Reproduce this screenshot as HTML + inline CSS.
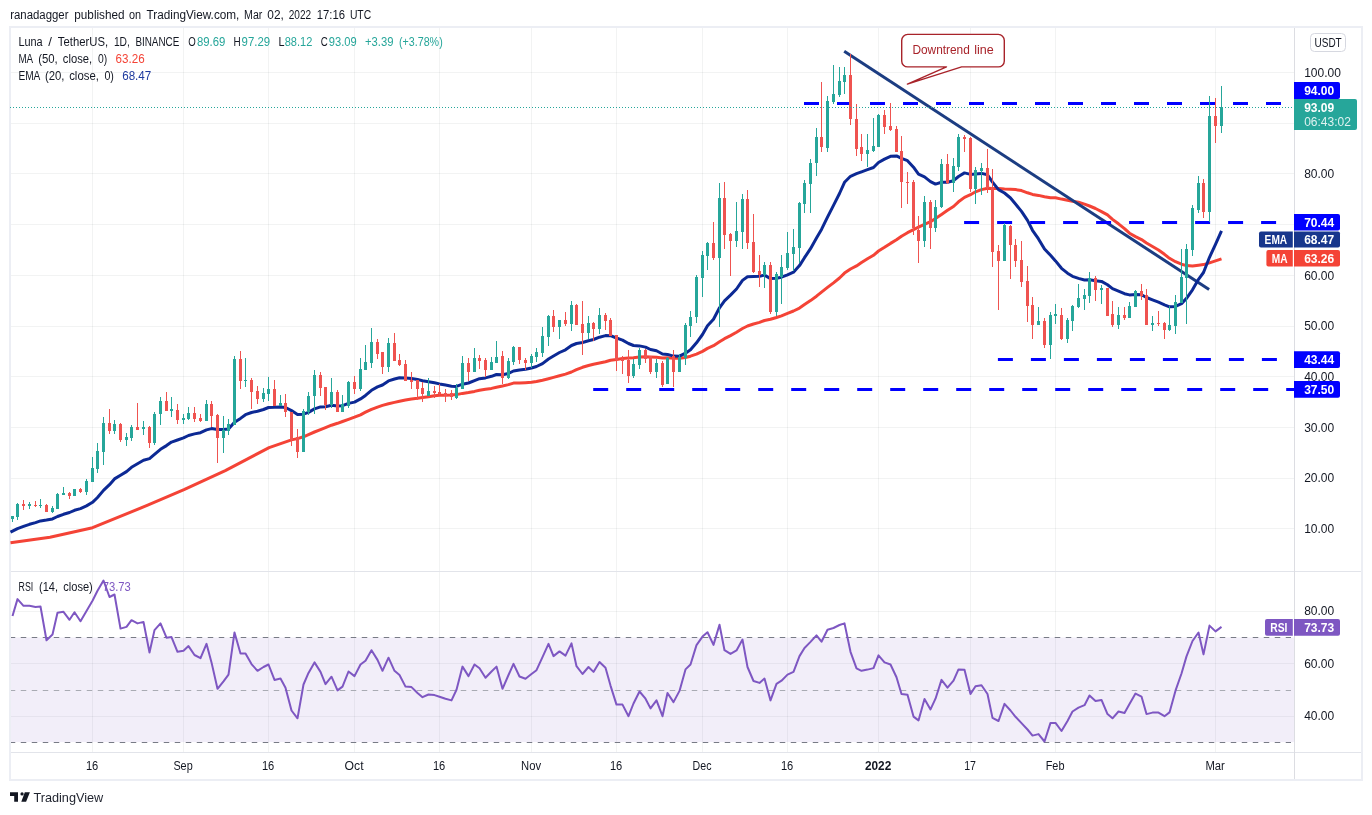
<!DOCTYPE html>
<html><head><meta charset="utf-8"><title>LUNA / TetherUS chart</title>
<style>
html,body{margin:0;padding:0;background:#fff}
body{width:1372px;height:815px;position:relative;overflow:hidden}
svg{position:absolute;left:0;top:0;display:block}
text{font-family:"Liberation Sans",sans-serif}
</style></head><body>
<svg width="1372" height="815" viewBox="0 0 1372 815">
<rect x="10" y="27" width="1352" height="753" fill="#fff" stroke="#eceef4" stroke-width="2"/>
<path d="M92.5 28V752M183.5 28V752M268.5 28V752M354.5 28V752M439.5 28V752M531.5 28V752M616.5 28V752M702.5 28V752M787.5 28V752M878.5 28V752M970.5 28V752M1055.5 28V752M1215.5 28V752" stroke="#2a2e39" stroke-opacity=".06" stroke-width="1" fill="none"/>
<path d="M11 528.5H1294M11 478.5H1294M11 427.5H1294M11 376.5H1294M11 326.5H1294M11 275.5H1294M11 224.5H1294M11 173.5H1294M11 123.5H1294M11 72.5H1294M11 611.5H1294M11 663.5H1294M11 716.5H1294" stroke="#2a2e39" stroke-opacity=".06" stroke-width="1" fill="none"/>
<rect x="11" y="637.5" width="1283" height="104.6" fill="#7e57c2" fill-opacity=".1"/>
<path d="M11 571.5H1361M11 752.5H1361" stroke="#e2e4ea" stroke-width="1"/>
<path d="M1294.5 28V779" stroke="#dcdde2" stroke-width="1"/>
<path d="M11 637.5H1291M11 742.5H1291" stroke="#787b86" stroke-width="1" stroke-dasharray="5.5 5.5" stroke-dashoffset="1.24"/>
<path d="M11 690.5H1291" stroke="#a9abb3" stroke-width="1" stroke-dasharray="5.5 5.5" stroke-dashoffset="1.24"/>
<polyline points="10.5,542.7 50.0,537.2 92.6,527.7 147.7,505.2 184.0,489.7 225.3,470.6 269.1,447.6 291.5,439.9 297.5,438.6 303.5,436.8 308.5,434.6 314.5,432.0 320.5,429.6 325.5,427.6 331.5,425.2 337.5,423.3 342.5,421.5 348.5,419.3 354.5,417.2 360.5,414.8 365.5,412.2 371.5,409.4 377.5,407.1 382.5,405.4 388.5,403.8 394.5,402.4 399.5,401.2 405.5,400.0 411.5,398.9 417.5,398.2 422.5,397.5 428.5,396.7 434.5,395.7 439.5,395.3 445.5,395.2 451.5,395.0 456.5,394.6 462.5,393.4 468.5,392.5 474.5,391.4 479.5,390.2 485.5,389.2 491.5,388.4 496.5,387.2 502.5,386.0 508.5,384.6 513.5,383.1 519.5,383.1 525.5,382.7 531.5,382.3 536.5,381.5 542.5,380.2 548.5,378.7 553.5,377.4 559.5,375.7 565.5,374.1 571.5,372.0 576.5,369.7 582.5,367.3 588.5,365.5 593.5,364.2 599.5,363.0 605.5,361.7 610.5,360.3 616.5,359.6 622.5,358.6 628.5,358.1 633.5,357.7 639.5,356.9 645.5,356.7 650.5,356.9 656.5,357.3 662.5,357.9 667.5,357.8 673.5,358.3 679.5,358.3 685.5,357.5 690.5,356.2 696.5,354.1 702.5,351.4 707.5,348.4 713.5,345.7 719.5,341.8 724.5,338.7 730.5,335.6 736.5,332.2 742.5,328.5 747.5,326.0 753.5,324.0 759.5,322.4 764.5,320.5 770.5,319.3 776.5,317.5 781.5,315.8 787.5,313.3 793.5,311.0 799.5,308.1 804.5,304.6 810.5,300.6 816.5,296.2 821.5,292.1 827.5,287.4 833.5,282.9 839.5,278.0 844.5,273.1 850.5,269.0 856.5,265.9 861.5,262.5 867.5,258.8 873.5,255.3 878.5,251.0 884.5,247.3 890.5,243.4 896.5,239.8 901.5,236.2 907.5,232.7 913.5,229.7 918.5,227.2 924.5,224.3 930.5,221.7 935.5,218.4 941.5,214.4 947.5,210.3 953.5,206.5 958.5,201.8 964.5,197.4 970.5,194.7 975.5,191.8 981.5,189.6 987.5,188.2 992.5,188.4 998.5,188.5 1004.5,189.0 1010.5,189.2 1015.5,189.6 1021.5,190.6 1027.5,192.8 1032.5,194.4 1038.5,195.4 1044.5,196.8 1050.5,197.8 1055.5,197.8 1061.5,199.1 1067.5,200.2 1072.5,201.2 1078.5,202.2 1084.5,204.1 1089.5,206.0 1095.5,208.5 1101.5,211.6 1107.5,214.9 1112.5,219.4 1118.5,223.8 1124.5,228.6 1129.5,233.2 1135.5,236.6 1141.5,239.6 1146.5,243.0 1152.5,246.5 1158.5,250.0 1164.5,254.3 1169.5,258.3 1175.5,261.7 1181.5,264.2 1186.5,265.6 1192.5,266.1 1198.5,265.2 1203.5,264.6 1209.5,262.9 1215.5,260.8 1221.5,258.8" fill="none" stroke="#f44336" stroke-width="3" stroke-linejoin="round" stroke-linecap="butt"/>
<path d="M844.2 51.3L1209.1 289.5" stroke="#1c3d82" stroke-width="3" fill="none"/>
<polyline points="10.5,532.2 12.5,531.2 17.5,528.6 23.5,526.4 29.5,524.3 35.5,522.6 40.5,520.9 46.5,520.0 52.5,518.9 57.5,516.5 63.5,514.3 69.5,512.5 74.5,510.3 80.5,508.6 86.5,505.9 92.5,502.3 97.5,497.5 103.5,490.4 109.5,484.7 114.5,478.9 120.5,475.2 126.5,471.6 131.5,467.3 137.5,463.8 143.5,460.3 149.5,458.6 154.5,454.3 160.5,449.3 166.5,445.6 171.5,442.1 177.5,440.0 183.5,437.9 188.5,435.5 194.5,433.9 200.5,432.7 206.5,429.9 211.5,428.6 217.5,429.5 223.5,429.5 228.5,429.0 234.5,422.3 240.5,418.4 245.5,414.7 251.5,412.5 257.5,411.2 263.5,409.5 268.5,407.5 274.5,407.3 280.5,406.9 285.5,407.5 291.5,410.6 297.5,414.5 303.5,414.2 308.5,412.4 314.5,408.9 320.5,406.9 325.5,406.7 331.5,405.3 337.5,405.9 342.5,405.7 348.5,403.4 354.5,402.1 360.5,398.9 365.5,395.4 371.5,390.3 377.5,386.9 382.5,385.0 388.5,380.9 394.5,379.0 399.5,377.7 405.5,378.0 411.5,378.4 417.5,379.4 422.5,380.7 428.5,381.7 434.5,382.8 439.5,383.9 445.5,385.0 451.5,386.2 456.5,386.4 462.5,384.2 468.5,383.0 474.5,380.6 479.5,378.7 485.5,377.9 491.5,376.3 496.5,374.5 502.5,374.8 508.5,373.5 513.5,371.0 519.5,369.9 525.5,369.2 531.5,368.0 536.5,366.5 542.5,363.6 548.5,359.0 553.5,356.0 559.5,352.5 565.5,349.8 571.5,345.5 576.5,343.5 582.5,342.5 588.5,340.7 593.5,339.5 599.5,337.2 605.5,335.6 610.5,335.7 616.5,338.0 622.5,340.1 628.5,343.5 633.5,345.5 639.5,345.9 645.5,347.1 650.5,349.5 656.5,350.8 662.5,354.0 667.5,354.4 673.5,356.1 679.5,356.2 685.5,353.2 690.5,349.8 696.5,342.8 702.5,334.5 707.5,325.8 713.5,319.3 719.5,307.8 724.5,300.8 730.5,295.1 736.5,289.0 742.5,280.4 747.5,276.8 753.5,276.4 759.5,276.2 764.5,275.1 770.5,278.6 776.5,278.2 781.5,277.2 787.5,274.9 793.5,272.2 799.5,265.6 804.5,257.7 810.5,248.7 816.5,238.0 821.5,229.4 827.5,217.1 833.5,205.4 839.5,193.5 844.5,182.3 850.5,176.3 856.5,173.7 861.5,171.8 867.5,169.7 873.5,167.5 878.5,162.5 884.5,159.1 890.5,156.3 896.5,155.9 901.5,158.4 907.5,160.7 913.5,167.2 918.5,174.2 924.5,176.8 930.5,181.6 935.5,184.1 941.5,182.2 947.5,182.3 953.5,180.7 958.5,176.5 964.5,172.9 970.5,174.4 975.5,174.0 981.5,173.4 987.5,174.8 992.5,182.1 998.5,189.6 1004.5,193.0 1010.5,198.0 1015.5,204.0 1021.5,211.4 1027.5,220.4 1032.5,230.3 1038.5,238.9 1044.5,249.0 1050.5,255.3 1055.5,260.9 1061.5,268.3 1067.5,273.2 1072.5,276.3 1078.5,278.4 1084.5,280.0 1089.5,279.8 1095.5,280.7 1101.5,281.4 1107.5,284.7 1112.5,288.6 1118.5,291.1 1124.5,293.7 1129.5,294.9 1135.5,294.5 1141.5,294.7 1146.5,297.5 1152.5,299.9 1158.5,302.2 1164.5,304.8 1169.5,306.8 1175.5,306.4 1181.5,303.6 1186.5,298.4 1192.5,289.8 1198.5,279.3 1203.5,272.5 1209.5,257.3 1215.5,244.3 1221.5,230.8" fill="none" stroke="#0c2994" stroke-width="3" stroke-linejoin="round" stroke-linecap="butt"/>
<path d="M804.0 103.5H819.0M837.0 103.5H852.0M870.0 103.5H885.0M903.0 103.5H918.0M936.0 103.5H951.0M969.0 103.5H984.0M1002.0 103.5H1017.0M1035.0 103.5H1050.0M1068.0 103.5H1083.0M1101.0 103.5H1116.0M1134.0 103.5H1149.0M1167.0 103.5H1182.0M1200.0 103.5H1215.0M1233.0 103.5H1248.0M1266.0 103.5H1281.0M964.1 222.5H979.1M997.1 222.5H1012.1M1030.1 222.5H1045.1M1063.1 222.5H1078.1M1096.1 222.5H1111.1M1129.1 222.5H1144.1M1162.1 222.5H1177.1M1195.1 222.5H1210.1M1228.1 222.5H1243.1M1261.1 222.5H1276.1M997.9 359.5H1012.9M1030.9 359.5H1045.9M1063.9 359.5H1078.9M1096.9 359.5H1111.9M1129.9 359.5H1144.9M1162.9 359.5H1177.9M1195.9 359.5H1210.9M1228.9 359.5H1243.9M1261.9 359.5H1276.9M593.2 389.5H608.2M626.2 389.5H641.2M659.2 389.5H674.2M692.2 389.5H707.2M725.2 389.5H740.2M758.2 389.5H773.2M791.2 389.5H806.2M824.2 389.5H839.2M857.2 389.5H872.2M890.2 389.5H905.2M923.2 389.5H938.2M956.2 389.5H971.2M989.2 389.5H1004.2M1022.2 389.5H1037.2M1055.2 389.5H1070.2M1088.2 389.5H1103.2M1121.2 389.5H1136.2M1154.2 389.5H1169.2M1187.2 389.5H1202.2M1220.2 389.5H1235.2M1253.2 389.5H1268.2M1286.2 389.5H1294.0" stroke="#0000ff" stroke-width="3" fill="none"/>
<path d="M12.5 516V522M17.5 503V520M29.5 502V509M40.5 499V508M52.5 506V513M57.5 493V509M63.5 487V495M74.5 489V496M86.5 479V495M92.5 457V482M97.5 443V473M103.5 417V465M114.5 420V434M126.5 433V446M131.5 425V441M143.5 421V435M154.5 412V445M160.5 397V425M171.5 397V417M183.5 414V424M188.5 407V420M206.5 400V421M223.5 416V453M228.5 419V435M234.5 356V425M245.5 358V387M263.5 388V402M268.5 377V401M280.5 395V406M303.5 409V452M308.5 392V415M314.5 370V414M331.5 378V408M342.5 395V412M348.5 381V408M360.5 358V391M365.5 345V370M371.5 328V368M388.5 338V372M428.5 378V396M456.5 384V399M462.5 356V389M474.5 348V372M491.5 357V370M496.5 341V363M508.5 358V379M513.5 346V365M531.5 354V368M536.5 348V362M542.5 327V357M548.5 315V346M559.5 320V339M571.5 301V331M588.5 316V339M599.5 308V334M633.5 359V378M639.5 348V369M656.5 359V378M667.5 357V384M679.5 354V372M685.5 323V365M690.5 311V337M696.5 275V323M702.5 251V297M707.5 242V270M719.5 183V327M736.5 202V247M742.5 194V249M764.5 262V288M776.5 272V316M781.5 255V304M787.5 232V270M793.5 229V271M799.5 202V263M804.5 180V213M810.5 159V213M816.5 128V176M827.5 96V152M833.5 65V104M839.5 67V97M844.5 67V94M867.5 134V167M873.5 118V152M878.5 114V147M924.5 196V247M935.5 200V232M941.5 159V208M953.5 158V192M958.5 134V171M975.5 167V204M981.5 163V195M1004.5 223V261M1038.5 307V325M1050.5 312V359M1055.5 304V324M1067.5 318V343M1072.5 305V331M1078.5 284V308M1084.5 289V310M1089.5 272V303M1101.5 285V304M1118.5 307V329M1129.5 302V318M1135.5 290V307M1152.5 316V331M1169.5 306V331M1175.5 295V334M1181.5 249V303M1186.5 244V324M1192.5 205V256M1198.5 176V213M1209.5 96V222M1221.5 86V133" stroke="#26a69a" stroke-width="1" fill="none"/>
<path d="M23.5 500V510M35.5 501V507M46.5 504V512M69.5 492V499M80.5 488V493M109.5 409V434M120.5 423V442M137.5 403V430M149.5 426V448M166.5 392V411M177.5 404V424M194.5 407V422M200.5 414V422M211.5 401V427M217.5 414V463M240.5 351V389M251.5 378V409M257.5 386V404M274.5 380V406M285.5 394V417M291.5 412V446M297.5 429V458M320.5 372V396M325.5 387V410M337.5 390V412M354.5 376V394M377.5 339V359M382.5 352V374M394.5 333V361M399.5 354V366M405.5 360V381M411.5 372V389M417.5 380V400M422.5 382V402M434.5 386V398M439.5 384V395M445.5 389V402M451.5 390V400M468.5 358V381M479.5 355V369M485.5 358V377M502.5 351V384M519.5 347V364M525.5 358V370M553.5 310V332M565.5 312V326M576.5 304V325M582.5 301V355M593.5 322V341M605.5 313V330M610.5 318V336M616.5 335V371M622.5 356V374M628.5 350V383M645.5 349V363M650.5 356V374M662.5 361V387M673.5 350V387M713.5 222V260M724.5 182V249M730.5 233V276M747.5 190V249M753.5 214V273M759.5 255V287M770.5 262V314M821.5 82V152M850.5 54V125M856.5 104V156M861.5 134V161M884.5 110V134M890.5 103V131M896.5 126V152M901.5 136V208M907.5 172V204M913.5 180V235M918.5 216V263M930.5 200V249M947.5 154V184M964.5 135V152M970.5 137V192M987.5 149V193M992.5 169V267M998.5 245V310M1010.5 225V279M1015.5 239V267M1021.5 241V287M1027.5 266V322M1032.5 297V339M1044.5 318V348M1061.5 308V340M1095.5 276V301M1107.5 288V316M1112.5 301V327M1124.5 307V320M1141.5 284V300M1146.5 289V325M1158.5 311V326M1164.5 322V339M1203.5 179V218M1215.5 98V143" stroke="#ef5350" stroke-width="1" fill="none"/>
<path d="M11 516h3V519h-3zM16 504h3V517h-3zM28 504h3V506h-3zM39 505h3V506h-3zM51 508h3V512h-3zM56 494h3V509h-3zM62 493h3V495h-3zM73 489h3V496h-3zM85 481h3V492h-3zM91 468h3V482h-3zM96 451h3V469h-3zM102 423h3V452h-3zM113 424h3V431h-3zM125 437h3V440h-3zM130 427h3V438h-3zM142 427h3V429h-3zM153 414h3V443h-3zM159 401h3V414h-3zM170 409h3V411h-3zM182 418h3V420h-3zM187 413h3V419h-3zM205 404h3V421h-3zM222 430h3V438h-3zM227 424h3V431h-3zM233 359h3V425h-3zM244 380h3V381h-3zM262 393h3V399h-3zM267 389h3V394h-3zM279 403h3V406h-3zM302 411h3V452h-3zM307 396h3V412h-3zM313 375h3V396h-3zM330 392h3V405h-3zM341 404h3V412h-3zM347 382h3V406h-3zM359 369h3V389h-3zM364 362h3V370h-3zM370 342h3V363h-3zM387 343h3V367h-3zM427 391h3V396h-3zM455 388h3V398h-3zM461 363h3V389h-3zM473 358h3V372h-3zM490 362h3V370h-3zM495 357h3V363h-3zM507 361h3V378h-3zM512 347h3V362h-3zM530 356h3V363h-3zM535 352h3V357h-3zM541 336h3V353h-3zM547 316h3V337h-3zM558 320h3V327h-3zM570 305h3V324h-3zM587 323h3V333h-3zM598 315h3V329h-3zM632 364h3V376h-3zM638 350h3V365h-3zM655 363h3V372h-3zM666 358h3V384h-3zM678 357h3V372h-3zM684 325h3V358h-3zM689 317h3V326h-3zM695 277h3V317h-3zM701 255h3V278h-3zM706 243h3V256h-3zM718 198h3V258h-3zM735 231h3V241h-3zM741 199h3V232h-3zM763 265h3V275h-3zM775 274h3V312h-3zM780 267h3V277h-3zM786 253h3V268h-3zM792 247h3V254h-3zM798 203h3V248h-3zM803 183h3V204h-3zM809 163h3V184h-3zM815 137h3V163h-3zM826 101h3V148h-3zM832 94h3V102h-3zM838 81h3V95h-3zM843 75h3V82h-3zM866 150h3V154h-3zM872 146h3V151h-3zM877 115h3V147h-3zM923 202h3V241h-3zM934 207h3V228h-3zM940 164h3V207h-3zM952 166h3V183h-3zM957 137h3V167h-3zM974 170h3V189h-3zM980 168h3V171h-3zM1003 225h3V261h-3zM1037 321h3V325h-3zM1049 315h3V345h-3zM1054 314h3V316h-3zM1066 320h3V339h-3zM1071 306h3V321h-3zM1077 298h3V307h-3zM1083 295h3V299h-3zM1088 278h3V296h-3zM1100 288h3V290h-3zM1117 315h3V325h-3zM1128 306h3V318h-3zM1134 291h3V307h-3zM1151 323h3V325h-3zM1168 325h3V330h-3zM1174 302h3V326h-3zM1180 277h3V303h-3zM1185 249h3V278h-3zM1191 208h3V250h-3zM1197 183h3V210h-3zM1208 116h3V212h-3zM1220 107h3V126h-3z" fill="#26a69a"/>
<path d="M22 504h3V506h-3zM34 505h3V506h-3zM45 505h3V512h-3zM68 493h3V496h-3zM79 489h3V492h-3zM108 423h3V431h-3zM119 424h3V440h-3zM136 427h3V430h-3zM148 427h3V443h-3zM165 401h3V411h-3zM176 410h3V420h-3zM193 413h3V419h-3zM199 418h3V421h-3zM210 404h3V416h-3zM216 415h3V438h-3zM239 359h3V381h-3zM250 380h3V392h-3zM256 391h3V399h-3zM273 389h3V406h-3zM284 403h3V412h-3zM290 412h3V440h-3zM296 437h3V452h-3zM319 375h3V388h-3zM324 387h3V405h-3zM336 392h3V412h-3zM353 382h3V389h-3zM376 342h3V354h-3zM381 352h3V367h-3zM393 343h3V361h-3zM398 360h3V365h-3zM404 364h3V381h-3zM410 380h3V382h-3zM416 380h3V389h-3zM421 388h3V394h-3zM433 391h3V393h-3zM438 392h3V394h-3zM444 393h3V396h-3zM450 393h3V397h-3zM467 363h3V372h-3zM478 358h3V361h-3zM484 360h3V370h-3zM501 356h3V378h-3zM518 347h3V360h-3zM524 360h3V363h-3zM552 316h3V327h-3zM564 320h3V324h-3zM575 305h3V325h-3zM581 324h3V333h-3zM592 323h3V329h-3zM604 315h3V321h-3zM609 320h3V336h-3zM615 335h3V360h-3zM621 359h3V361h-3zM627 360h3V376h-3zM644 350h3V359h-3zM649 356h3V372h-3zM661 363h3V385h-3zM672 356h3V372h-3zM712 243h3V258h-3zM723 198h3V235h-3zM729 234h3V241h-3zM746 199h3V243h-3zM752 242h3V272h-3zM758 271h3V275h-3zM769 265h3V312h-3zM820 137h3V147h-3zM849 75h3V119h-3zM855 119h3V149h-3zM860 147h3V154h-3zM883 115h3V127h-3zM889 126h3V130h-3zM895 129h3V152h-3zM900 151h3V182h-3zM906 182h3V183h-3zM912 182h3V228h-3zM917 230h3V241h-3zM929 202h3V228h-3zM946 164h3V183h-3zM963 137h3V139h-3zM969 138h3V189h-3zM986 168h3V188h-3zM991 187h3V252h-3zM997 251h3V261h-3zM1009 226h3V245h-3zM1014 245h3V261h-3zM1020 260h3V282h-3zM1026 281h3V306h-3zM1031 305h3V325h-3zM1043 321h3V345h-3zM1060 315h3V339h-3zM1094 278h3V290h-3zM1106 288h3V316h-3zM1111 314h3V325h-3zM1123 315h3V318h-3zM1140 291h3V296h-3zM1145 295h3V325h-3zM1157 323h3V324h-3zM1163 323h3V330h-3zM1202 183h3V212h-3zM1214 116h3V126h-3z" fill="#ef5350"/>
<path d="M10 107.500H1294" stroke="#26a69a" stroke-width="1" stroke-dasharray="1 2"/>
<polyline points="12.5,616.0 17.5,599.1 23.5,605.8 29.5,605.8 35.5,606.9 40.5,606.5 46.5,640.2 52.5,634.5 57.5,612.8 63.5,611.8 69.5,619.8 74.5,612.2 80.5,621.2 86.5,611.1 92.5,600.8 97.5,590.7 103.5,580.5 109.5,597.0 114.5,594.5 120.5,628.6 126.5,626.9 131.5,620.2 137.5,623.4 143.5,621.9 149.5,652.5 154.5,630.1 160.5,623.4 166.5,637.7 171.5,637.1 177.5,651.8 183.5,650.8 188.5,646.1 194.5,655.0 200.5,658.2 206.5,643.8 211.5,662.4 217.5,688.8 223.5,681.4 228.5,674.6 234.5,632.4 240.5,653.5 245.5,653.5 251.5,664.1 257.5,670.8 263.5,667.0 268.5,664.5 274.5,679.9 280.5,678.6 285.5,687.7 291.5,710.5 297.5,718.3 303.5,684.5 308.5,672.9 314.5,662.4 320.5,671.9 325.5,684.1 331.5,676.7 337.5,690.4 342.5,686.6 348.5,671.5 354.5,676.1 360.5,664.5 365.5,660.7 371.5,650.2 377.5,659.9 382.5,670.8 388.5,657.7 394.5,670.8 399.5,675.0 405.5,686.6 411.5,687.1 417.5,693.0 422.5,697.2 428.5,694.5 434.5,695.1 439.5,696.8 445.5,698.7 451.5,700.4 456.5,689.8 462.5,666.6 468.5,676.1 474.5,664.5 479.5,668.3 485.5,677.8 491.5,671.5 496.5,666.6 502.5,688.8 508.5,675.0 513.5,663.9 519.5,676.5 525.5,678.8 531.5,674.0 536.5,670.2 542.5,657.1 548.5,643.8 553.5,656.1 559.5,651.4 565.5,655.6 571.5,643.4 576.5,666.2 582.5,674.0 588.5,667.0 593.5,671.9 599.5,662.0 605.5,667.7 610.5,685.6 616.5,704.6 622.5,704.6 628.5,716.2 633.5,703.5 639.5,691.5 645.5,698.7 650.5,708.4 656.5,700.4 662.5,716.2 667.5,693.0 673.5,702.1 679.5,690.9 685.5,669.4 690.5,664.5 696.5,645.1 702.5,636.6 707.5,632.2 713.5,644.9 719.5,624.8 724.5,650.2 730.5,653.9 736.5,650.4 742.5,639.6 747.5,667.0 753.5,681.0 759.5,682.9 764.5,678.6 770.5,700.4 776.5,683.9 781.5,680.7 787.5,674.6 793.5,671.9 799.5,656.1 804.5,648.0 810.5,641.9 816.5,635.4 821.5,641.7 827.5,629.7 833.5,628.0 839.5,625.0 844.5,623.4 850.5,651.8 856.5,668.3 861.5,670.8 867.5,669.6 873.5,668.1 878.5,655.4 884.5,662.4 890.5,664.5 896.5,677.2 901.5,694.0 907.5,694.7 913.5,716.6 918.5,720.4 924.5,698.9 930.5,709.4 935.5,698.7 941.5,679.9 947.5,687.7 953.5,680.7 958.5,669.4 964.5,669.8 970.5,694.0 975.5,686.2 981.5,685.2 987.5,694.0 992.5,717.9 998.5,721.0 1004.5,703.9 1010.5,710.5 1015.5,716.8 1021.5,723.1 1027.5,729.5 1032.5,735.6 1038.5,734.1 1044.5,741.5 1050.5,722.9 1055.5,722.9 1061.5,731.0 1067.5,721.0 1072.5,711.5 1078.5,707.7 1084.5,705.2 1089.5,695.5 1095.5,701.0 1101.5,699.9 1107.5,714.1 1112.5,718.3 1118.5,711.5 1124.5,713.0 1129.5,703.9 1135.5,693.6 1141.5,696.6 1146.5,714.1 1152.5,712.6 1158.5,712.6 1164.5,716.2 1169.5,712.4 1175.5,690.7 1181.5,673.5 1186.5,656.4 1192.5,641.0 1198.5,632.5 1203.5,654.4 1209.5,625.6 1215.5,631.4 1221.5,626.9" fill="none" stroke="#7e57c2" stroke-width="2" stroke-linejoin="round"/>
<path d="M907.7 34.4h90.6a6 6 0 0 1 6 6v20.500a6 6 0 0 1-6 6H961.6L907.4 84.1L946.5 66.900H907.7a6 6 0 0 1-6-6V40.400a6 6 0 0 1 6-6z" fill="#fff" stroke="#a8232a" stroke-width="1.4" stroke-linejoin="round"/>
<rect x="1310.5" y="33.500" width="35" height="18" rx="4" fill="#fff" stroke="#d6d8e0"/>
<path d="M10 792.300H18V801.750H14.200V796.100H10zM24.800 792.300H29.900L26.100 801.750H21.300z" fill="#131722"/><circle cx="22.050" cy="793.900" r="1.650" fill="#131722"/>
<path d="M1294 82H1338a2 2 0 0 1 2 2V97a2 2 0 0 1-2 2H1294z" fill="#0000ff"/>
<text x="1304.2" y="94.9" fill="#fff" font-size="12" font-weight="bold">94.00</text>
<path d="M1294 214H1338a2 2 0 0 1 2 2V228.6a2 2 0 0 1-2 2H1294z" fill="#0000ff"/>
<text x="1304.2" y="226.70000000000002" fill="#fff" font-size="12" font-weight="bold">70.44</text>
<path d="M1261 231.4H1292.8V247.4H1261a2 2 0 0 1-2-2V233.4a2 2 0 0 1 2-2z" fill="#17368c"/>
<text x="1264.6" y="243.8" fill="#fff" font-size="12" font-weight="bold" textLength="22.6" lengthAdjust="spacingAndGlyphs">EMA</text>
<path d="M1294 231.4H1338a2 2 0 0 1 2 2V245.4a2 2 0 0 1-2 2H1294z" fill="#17368c"/>
<text x="1304.2" y="243.8" fill="#fff" font-size="12" font-weight="bold">68.47</text>
<path d="M1268.4 250H1292.8000000000002V266.4H1268.4a2 2 0 0 1-2-2V252a2 2 0 0 1 2-2z" fill="#f44336"/>
<text x="1271.7" y="262.59999999999997" fill="#fff" font-size="12" font-weight="bold" textLength="15.8" lengthAdjust="spacingAndGlyphs">MA</text>
<path d="M1294 250H1338a2 2 0 0 1 2 2V264.4a2 2 0 0 1-2 2H1294z" fill="#f44336"/>
<text x="1304.2" y="262.59999999999997" fill="#fff" font-size="12" font-weight="bold">63.26</text>
<path d="M1294 351.3H1338a2 2 0 0 1 2 2V365.90000000000003a2 2 0 0 1-2 2H1294z" fill="#0000ff"/>
<text x="1304.2" y="364.0" fill="#fff" font-size="12" font-weight="bold">43.44</text>
<path d="M1294 381.1H1338a2 2 0 0 1 2 2V395.70000000000005a2 2 0 0 1-2 2H1294z" fill="#0000ff"/>
<text x="1304.2" y="393.8" fill="#fff" font-size="12" font-weight="bold">37.50</text>
<path d="M1267 619H1292.8V635.7H1267a2 2 0 0 1-2-2V621a2 2 0 0 1 2-2z" fill="#7e57c2"/>
<text x="1270.3" y="631.75" fill="#fff" font-size="12" font-weight="bold" textLength="17.2" lengthAdjust="spacingAndGlyphs">RSI</text>
<path d="M1294 619H1338a2 2 0 0 1 2 2V633.7a2 2 0 0 1-2 2H1294z" fill="#7e57c2"/>
<text x="1304.2" y="631.75" fill="#fff" font-size="12" font-weight="bold">73.73</text>
<path d="M1294 99H1355a2 2 0 0 1 2 2V128a2 2 0 0 1-2 2H1294z" fill="#26a69a"/>
<text x="1304.2" y="112.4" fill="#fff" font-size="12" font-weight="bold">93.09</text>
<text x="1304.2" y="126.2" fill="#fff" fill-opacity=".85" font-size="12">06:43:02</text>
<text y="19.1" font-size="12.5" fill="#131722"><tspan x="10.2" textLength="58.3" lengthAdjust="spacingAndGlyphs">ranadagger</tspan> <tspan x="74.3" textLength="50.3" lengthAdjust="spacingAndGlyphs">published</tspan> <tspan x="129" textLength="12.1" lengthAdjust="spacingAndGlyphs">on</tspan> <tspan x="146.5" textLength="92.9" lengthAdjust="spacingAndGlyphs">TradingView.com,</tspan> <tspan x="244.1" textLength="18.3" lengthAdjust="spacingAndGlyphs">Mar</tspan> <tspan x="267.3" textLength="16.5" lengthAdjust="spacingAndGlyphs">02,</tspan> <tspan x="288.7" textLength="22.4" lengthAdjust="spacingAndGlyphs">2022</tspan> <tspan x="316.7" textLength="28.3" lengthAdjust="spacingAndGlyphs">17:16</tspan> <tspan x="349.9" textLength="21.3" lengthAdjust="spacingAndGlyphs">UTC</tspan></text>
<text y="45.8" font-size="12" fill="#131722"><tspan x="18.4" textLength="24.3" lengthAdjust="spacingAndGlyphs">Luna</tspan> <tspan x="48.2" textLength="3.7" lengthAdjust="spacingAndGlyphs">/</tspan> <tspan x="57.8" textLength="50.3" lengthAdjust="spacingAndGlyphs">TetherUS,</tspan> <tspan x="113.9" textLength="16.0" lengthAdjust="spacingAndGlyphs">1D,</tspan> <tspan x="135.4" textLength="43.9" lengthAdjust="spacingAndGlyphs">BINANCE</tspan> <tspan x="188.3" textLength="7.5" lengthAdjust="spacingAndGlyphs">O</tspan> <tspan x="196.9" textLength="28.4" lengthAdjust="spacingAndGlyphs" fill="#26a69a">89.69</tspan> <tspan x="233.5" textLength="7.2" lengthAdjust="spacingAndGlyphs">H</tspan> <tspan x="241.6" textLength="28.5" lengthAdjust="spacingAndGlyphs" fill="#26a69a">97.29</tspan> <tspan x="278.4" textLength="5.6" lengthAdjust="spacingAndGlyphs">L</tspan> <tspan x="284.7" textLength="27.6" lengthAdjust="spacingAndGlyphs" fill="#26a69a">88.12</tspan> <tspan x="320.7" textLength="7.0" lengthAdjust="spacingAndGlyphs">C</tspan> <tspan x="328.8" textLength="27.9" lengthAdjust="spacingAndGlyphs" fill="#26a69a">93.09</tspan> <tspan x="365" textLength="28.5" lengthAdjust="spacingAndGlyphs" fill="#26a69a">+3.39</tspan> <tspan x="399" textLength="43.7" lengthAdjust="spacingAndGlyphs" fill="#26a69a">(+3.78%)</tspan></text>
<text y="63" font-size="12" fill="#131722"><tspan x="18.4" textLength="14.2" lengthAdjust="spacingAndGlyphs">MA</tspan> <tspan x="38.2" textLength="19.6" lengthAdjust="spacingAndGlyphs">(50,</tspan> <tspan x="62.8" textLength="29.3" lengthAdjust="spacingAndGlyphs">close,</tspan> <tspan x="98" textLength="9.2" lengthAdjust="spacingAndGlyphs">0)</tspan> <tspan x="115.6" textLength="29.1" lengthAdjust="spacingAndGlyphs" fill="#f44336">63.26</tspan></text>
<text y="79.7" font-size="12" fill="#131722"><tspan x="18.4" textLength="21.4" lengthAdjust="spacingAndGlyphs">EMA</tspan> <tspan x="44.9" textLength="19.6" lengthAdjust="spacingAndGlyphs">(20,</tspan> <tspan x="69.2" textLength="29.7" lengthAdjust="spacingAndGlyphs">close,</tspan> <tspan x="104.4" textLength="9.5" lengthAdjust="spacingAndGlyphs">0)</tspan> <tspan x="122.2" textLength="29.1" lengthAdjust="spacingAndGlyphs" fill="#1e3a9f">68.47</tspan></text>
<text y="591.1" font-size="12" fill="#131722"><tspan x="18.6" textLength="14.7" lengthAdjust="spacingAndGlyphs">RSI</tspan> <tspan x="39" textLength="19.0" lengthAdjust="spacingAndGlyphs">(14,</tspan> <tspan x="63.3" textLength="29.5" lengthAdjust="spacingAndGlyphs">close)</tspan> <tspan x="102.7" textLength="28.1" lengthAdjust="spacingAndGlyphs" fill="#7e57c2">73.73</tspan></text>
<text y="53.9" font-size="12" fill="#a8232a"><tspan x="912.4" textLength="57.4" lengthAdjust="spacingAndGlyphs">Downtrend</tspan> <tspan x="974.2" textLength="19.5" lengthAdjust="spacingAndGlyphs">line</tspan></text>
<text y="801.9" font-size="13.5" fill="#1e222d"><tspan x="33.4" textLength="69.9" lengthAdjust="spacingAndGlyphs">TradingView</tspan></text>
<text y="46.8" font-size="12.3" fill="#131722"><tspan x="1314.5" textLength="27.2" lengthAdjust="spacingAndGlyphs">USDT</tspan></text>
<text x="1304.2" y="76.8" fill="#131722" font-size="12" font-weight="normal" text-anchor="start">100.00</text>
<text x="1304.2" y="178.20000000000002" fill="#131722" font-size="12" font-weight="normal" text-anchor="start">80.00</text>
<text x="1304.2" y="279.6" fill="#131722" font-size="12" font-weight="normal" text-anchor="start">60.00</text>
<text x="1304.2" y="330.3" fill="#131722" font-size="12" font-weight="normal" text-anchor="start">50.00</text>
<text x="1304.2" y="381.00000000000006" fill="#131722" font-size="12" font-weight="normal" text-anchor="start">40.00</text>
<text x="1304.2" y="431.70000000000005" fill="#131722" font-size="12" font-weight="normal" text-anchor="start">30.00</text>
<text x="1304.2" y="482.40000000000003" fill="#131722" font-size="12" font-weight="normal" text-anchor="start">20.00</text>
<text x="1304.2" y="533.0999999999999" fill="#131722" font-size="12" font-weight="normal" text-anchor="start">10.00</text>
<text x="1304.2" y="614.5999999999999" fill="#131722" font-size="12" font-weight="normal" text-anchor="start">80.00</text>
<text x="1304.2" y="667.5" fill="#131722" font-size="12" font-weight="normal" text-anchor="start">60.00</text>
<text x="1304.2" y="720.0999999999999" fill="#131722" font-size="12" font-weight="normal" text-anchor="start">40.00</text>
<text x="85.9" y="770.2" font-size="12" fill="#131722" textLength="12.4" lengthAdjust="spacingAndGlyphs">16</text>
<text x="173.4" y="770.2" font-size="12" fill="#131722" textLength="19.3" lengthAdjust="spacingAndGlyphs">Sep</text>
<text x="261.9" y="770.2" font-size="12" fill="#131722" textLength="12.4" lengthAdjust="spacingAndGlyphs">16</text>
<text x="344.6" y="770.2" font-size="12" fill="#131722" textLength="19" lengthAdjust="spacingAndGlyphs">Oct</text>
<text x="432.9" y="770.2" font-size="12" fill="#131722" textLength="12.4" lengthAdjust="spacingAndGlyphs">16</text>
<text x="521.1" y="770.2" font-size="12" fill="#131722" textLength="20" lengthAdjust="spacingAndGlyphs">Nov</text>
<text x="609.9" y="770.2" font-size="12" fill="#131722" textLength="12.4" lengthAdjust="spacingAndGlyphs">16</text>
<text x="692.6" y="770.2" font-size="12" fill="#131722" textLength="18.9" lengthAdjust="spacingAndGlyphs">Dec</text>
<text x="780.9" y="770.2" font-size="12" fill="#131722" textLength="12.4" lengthAdjust="spacingAndGlyphs">16</text>
<text x="864.9" y="770.2" font-size="12" fill="#131722" textLength="26.4" lengthAdjust="spacingAndGlyphs" font-weight="bold">2022</text>
<text x="964.2" y="770.2" font-size="12" fill="#131722" textLength="11.8" lengthAdjust="spacingAndGlyphs">17</text>
<text x="1045.7" y="770.2" font-size="12" fill="#131722" textLength="18.8" lengthAdjust="spacingAndGlyphs">Feb</text>
<text x="1205.4" y="770.2" font-size="12" fill="#131722" textLength="19.4" lengthAdjust="spacingAndGlyphs">Mar</text>
</svg>
</body></html>
